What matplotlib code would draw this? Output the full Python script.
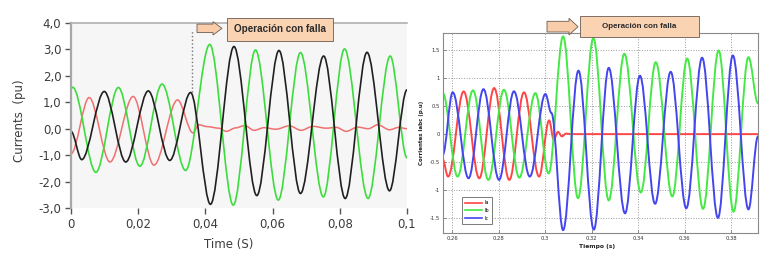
import matplotlib
matplotlib.use("Agg")
import matplotlib.pyplot as plt
from matplotlib.path import Path
from matplotlib.patches import PathPatch, Rectangle, Polygon
from matplotlib.lines import Line2D

# ---- left chart: currents (pu) vs time (S), peaks/troughs
left_green_t = [0, 0.0005, 0.0074, 0.0141, 0.0205, 0.0271, 0.0341, 0.0413, 0.0483, 0.0549,
                0.0617, 0.0683, 0.0751, 0.0814, 0.0884, 0.0950, 0.1]
left_green_v = [1.52, 1.57, -1.65, 1.56, -1.42, 1.69, -1.58, 3.19, -2.89, 2.98,
                -2.70, 2.88, -2.58, 3.02, -2.64, 2.75, -1.1]

left_black_t = [0, 0.0032, 0.0099, 0.0163, 0.0230, 0.0294, 0.0356, 0.0415, 0.0485, 0.0553,
                0.0619, 0.0683, 0.0752, 0.0816, 0.0881, 0.0948, 0.1]
left_black_v = [-0.1, -1.17, 1.41, -1.26, 1.43, -1.20, 1.37, -2.86, 3.11, -2.53,
                2.96, -2.45, 2.75, -2.64, 2.89, -2.35, 1.47]

left_red_t = [0, 0.0054, 0.0116, 0.0185, 0.0247, 0.0317, 0.0363, 0.0380, 0.0405, 0.0440,
              0.0462, 0.0490, 0.0517, 0.0545, 0.0575, 0.0610, 0.0650, 0.0685, 0.0720, 0.0760,
              0.0790, 0.0819, 0.0853, 0.0885, 0.0913, 0.0948, 0.0975, 0.1]
left_red_v = [-0.95, 1.18, -1.26, 1.22, -1.38, 1.09, -0.16, 0.15, 0.08, 0.02,
              -0.10, 0.03, 0.12, -0.06, 0.04, -0.02, 0.11, -0.06, 0.09, 0.02,
              0.05, -0.10, 0.06, 0.00, 0.15, -0.04, 0.05, 0.0]

left_fault_t = 0.036
left_fault_span = [1.4, 3.75]
left_yticks = [4.0, 3.0, 2.0, 1.0, 0.0, -1.0, -2.0, -3.0]
left_ytick_labels = ["4,0", "3,0", "2,0", "1,0", "0,0", "-1,0", "-2,0", "-3,0"]
left_xticks = [0, 0.02, 0.04, 0.06, 0.08, 0.1]
left_xtick_labels = ["0", "0,02", "0,04", "0,06", "0,08", "0,1"]

# ---- right chart: Iabc (p.u) vs tiempo (s)
right_a_t = [0.256, 0.2583, 0.2650, 0.2717, 0.2781, 0.2846, 0.2909, 0.2974, 0.3017, 0.3037,
             0.3055, 0.3072, 0.3090, 0.3110, 0.3914]
right_a_v = [-0.45, -0.756, 0.76, -0.786, 0.82, -0.815, 0.744, -0.756, 0.244, -0.10,
             0.04, -0.04, 0.01, 0.0, 0.0]

right_b_t = [0.256, 0.2624, 0.2690, 0.2756, 0.2823, 0.2889, 0.2958, 0.3015, 0.3077, 0.3141,
             0.3207, 0.3273, 0.3340, 0.3411, 0.3475, 0.3546, 0.3610, 0.3678, 0.3745, 0.3809,
             0.3873, 0.3914]
right_b_v = [0.73, -0.756, 0.78, -0.815, 0.79, -0.774, 0.73, -0.70, 1.74, -1.14,
             1.71, -1.18, 1.43, -1.04, 1.28, -1.11, 1.345, -1.33, 1.49, -1.38,
             1.37, 0.55]

right_c_t = [0.256, 0.2603, 0.2671, 0.2735, 0.2802, 0.2866, 0.2934, 0.3001, 0.3027, 0.3077,
             0.3143, 0.3209, 0.3273, 0.3343, 0.3407, 0.3472, 0.3539, 0.3606, 0.3674, 0.3742,
             0.3806, 0.3873, 0.3914]
right_c_v = [-0.37, 0.744, -0.786, 0.80, -0.815, 0.762, -0.756, 0.714, 0.375, -1.71,
             1.13, -1.70, 1.18, -1.41, 1.04, -1.24, 1.11, -1.32, 1.36, -1.49,
             1.40, -1.34, -0.04]

right_labels = ["Ia", "Ib", "Ic"]
right_yticks = [-1.5, -1, -0.5, 0, 0.5, 1, 1.5]
right_ytick_labels = ["-1.5", "-1", "-0.5", "0", "0.5", "1", "1.5"]
right_xticks = [0.26, 0.28, 0.30, 0.32, 0.34, 0.36, 0.38]
right_xtick_labels = ["0.26", "0.28", "0.3", "0.32", "0.34", "0.36", "0.38"]

W, H = 775, 259


def px(x, y):
    """pixel (from top-left) -> figure fraction"""
    return (x / W, 1 - y / H)


def wave(ax, ts, vs, color, lw, k=0.36, label=None):
    """Smooth curve through the read extrema (cubic bezier, flat at each node)"""
    verts = [(ts[0], vs[0])]
    codes = [Path.MOVETO]
    for i in range(1, len(ts)):
        dt = ts[i] - ts[i - 1]
        verts += [(ts[i - 1] + k * dt, vs[i - 1]), (ts[i] - k * dt, vs[i]), (ts[i], vs[i])]
        codes += [Path.CURVE4] * 3
    patch = PathPatch(Path(verts, codes), fill=False, edgecolor=color, lw=lw,
                      capstyle="round", joinstyle="round")
    ax.add_patch(patch)
    return patch


def fault_callout(fig, arrow_x, arrow_y, box, text, size):
    x0, x1, x2 = arrow_x
    yt, yb = arrow_y
    yc = (yt + yb) / 2
    bh = (yb - yt) * 0.32
    pts = [px(x0, yc - bh), px(x1, yc - bh), px(x1, yt), px(x2, yc),
           px(x1, yb), px(x1, yc + bh), px(x0, yc + bh)]
    fig.add_artist(Polygon(pts, closed=True, transform=fig.transFigure,
                           facecolor="#f9cdaa", edgecolor="#6b5a50", lw=0.6))
    bx0, by0, bx1, by1 = box
    fig.add_artist(Rectangle(px(bx0, by1), (bx1 - bx0) / W, (by1 - by0) / H,
                             transform=fig.transFigure, facecolor="#fad3b3",
                             edgecolor="#6b5a50", lw=0.6))
    cx, cy = px((bx0 + bx1) / 2, (by0 + by1) / 2)
    fig.text(cx, cy, text, ha="center", va="center", fontsize=size, fontweight="bold",
             family="Liberation Sans", color="#2b2b2b")


fig = plt.figure(figsize=(7.75, 2.59), dpi=100)
fig.patch.set_facecolor("white")

# ---------------- left chart
ax1 = fig.add_axes([71 / W, 1 - 208 / H, (407 - 71) / W, (208 - 23) / H])
ax1.set_facecolor("#f6f6f6")
ax1.set_xlim(0, 0.1)
ax1.set_ylim(-3.0, 4.0)

wave(ax1, left_red_t, left_red_v, "#f07070", 1.1, k=0.33)
wave(ax1, left_green_t, left_green_v, "#3ddc3d", 1.2, k=0.33)
wave(ax1, left_black_t, left_black_v, "#202020", 1.2, k=0.33)
ax1.plot([left_fault_t, left_fault_t], left_fault_span, ls=":", color="#777777", lw=1)

for s in ["right", "bottom"]:
    ax1.spines[s].set_visible(False)
ax1.spines["left"].set_color("#a8a8a8")
ax1.spines["left"].set_linewidth(1.6)
ax1.spines["top"].set_color("#b0b0b0")
ax1.spines["top"].set_linewidth(1.2)

ax1.set_yticks(left_yticks)
ax1.set_yticklabels(left_ytick_labels)
ax1.set_xticks(left_xticks)
ax1.set_xticklabels(left_xtick_labels)
ax1.tick_params(direction="out", length=4, width=1, color="#555555",
                labelsize=8.5, labelcolor="#3c3c3c", pad=3)
ax1.set_ylabel("Currents  (pu)", fontsize=8.5, color="#3c3c3c")
ax1.yaxis.set_label_coords(-0.135, 0.47)
ax1.set_xlabel("Time (S)", fontsize=8.5, color="#3c3c3c")
ax1.xaxis.set_label_coords(0.47, -0.16)

# ---------------- right chart
ax2 = fig.add_axes([442.7 / W, 1 - 233 / H, (758 - 442.7) / W, (233 - 33) / H])
ax2.set_xlim(0.256, 0.3914)
ax2.set_ylim(-1.76, 1.80)
ax2.grid(True, ls=":", color="#9a9a9a", lw=0.7)
ax2.set_axisbelow(True)

colors = ["#ff4545", "#45e845", "#4545ee"]
wave(ax2, right_a_t, right_a_v, colors[0], 1.4)
wave(ax2, right_b_t, right_b_v, colors[1], 1.4)
wave(ax2, right_c_t, right_c_v, colors[2], 1.4)

for s in ax2.spines.values():
    s.set_color("#8a8a8a")
    s.set_linewidth(0.8)
ax2.set_yticks(right_yticks)
ax2.set_yticklabels(right_ytick_labels)
ax2.set_xticks(right_xticks)
ax2.set_xticklabels(right_xtick_labels)
ax2.tick_params(direction="in", length=2, width=0.5, color="#666666",
                labelsize=3.8, labelcolor="#333333", pad=2)
ax2.set_ylabel("Corrientes Iabc (p.u)", fontsize=4, color="#222222", fontweight="bold")
ax2.yaxis.set_label_coords(-0.06, 0.5)
ax2.set_xlabel("Tiempo (s)", fontsize=4.3, color="#222222", fontweight="bold")
ax2.xaxis.set_label_coords(0.49, -0.055)

handles = [Line2D([], [], color=c, lw=1.2) for c in colors]
leg = ax2.legend(handles, right_labels, loc="lower left", bbox_to_anchor=(0.055, 0.035),
                 fontsize=3.5, handlelength=3.4, labelspacing=0.55, borderpad=0.6,
                 handletextpad=0.5, fancybox=False, framealpha=1)
leg.get_frame().set_edgecolor("#666666")
leg.get_frame().set_linewidth(0.6)

# "Operación con falla" callouts
fault_callout(fig, (197, 213, 222), (21.7, 35), (227, 18, 333, 40.7), "Operación con falla", 7.1)
fault_callout(fig, (547, 569, 578), (18.3, 35), (580, 16, 699, 37.3), "Operación con falla", 5.8)

fig.savefig("out.png", dpi=100)
